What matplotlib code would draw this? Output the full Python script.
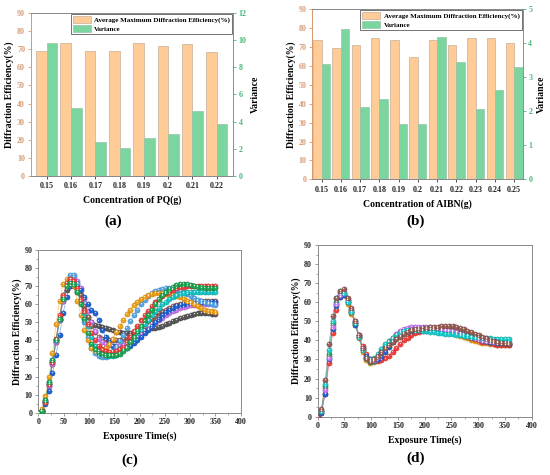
import numpy as np
import matplotlib
matplotlib.use("Agg")
import matplotlib.pyplot as plt
from matplotlib.ticker import MultipleLocator
from matplotlib.patches import Patch

# ---------------- data ----------------
pq_conc = ["0.15", "0.16", "0.17", "0.18", "0.19", "0.2", "0.21", "0.22"]
pq_eff = [69.2, 73.5, 68.9, 68.9, 73.3, 72.0, 72.8, 68.3]
pq_var = [9.82, 5.03, 2.50, 2.08, 2.77, 3.11, 4.78, 3.80]

aibn_conc = ["0.15", "0.16", "0.17", "0.18", "0.19", "0.2", "0.21", "0.22", "0.23", "0.24", "0.25"]
aibn_eff = [73.8, 69.3, 70.9, 75.0, 73.8, 64.8, 73.5, 70.9, 75.0, 74.7, 72.4]
aibn_var = [3.38, 4.42, 2.13, 2.35, 1.63, 1.63, 4.18, 3.46, 2.07, 2.64, 3.31]

step_c = 7  # s between samples, panel (c)
c_green = [0, 1, 7, 17, 29, 40, 52, 63, 70, 72, 71, 67, 60, 52, 44, 38, 35, 33, 32.5, 32, 32, 31.8, 32, 32.5, 34, 36, 39, 42, 45, 48, 51, 54, 57, 60, 63, 65, 67, 68.5, 69.5, 70.5, 71, 71, 71, 70.5, 70, 69.5, 69.3, 69.2, 69, 69, 69]
c_red = [0, 1, 6, 16, 28, 41, 54, 65, 72, 74, 73, 69, 63, 56, 49, 44, 40, 37, 35, 34, 33.5, 33.5, 34, 35, 36.5, 39, 42, 45, 48, 51, 54, 56.5, 59, 61, 63, 64.5, 66, 67, 68, 68.8, 69.3, 69.7, 70, 70, 70, 70, 70, 70, 70, 70, 70]
c_cyan = [0, 1, 7, 17, 29, 41, 53, 64, 70, 72, 71, 68, 62, 55, 48, 42, 37, 34, 32.5, 32, 31.5, 31.5, 32, 33, 34.5, 36.5, 39, 41.5, 44, 46.5, 49, 51.5, 54, 56, 58, 60, 61.5, 63, 64, 65, 65.8, 66.3, 66.7, 67, 67, 67, 67, 67, 67, 67, 67]
c_orange = [0, 2, 9, 20, 33, 49, 62, 71, 74, 74, 70, 62, 54, 46, 40, 36, 34.5, 34, 34.5, 36, 38, 41, 44.5, 48, 51.5, 54.5, 57, 59.5, 61.5, 63, 64, 65, 65.5, 66, 66, 66, 65.8, 65.5, 65, 64.5, 64, 63, 62, 61, 60, 59, 58, 57, 56.5, 56, 55.5]
c_lblue = [0, 1, 6, 16, 28, 40, 52, 64, 72, 76, 76, 72, 62, 50, 42, 36, 33, 31.5, 31, 31, 32, 34, 36.5, 39.5, 43, 47, 50.5, 54, 57, 60, 62.5, 64.5, 66, 67.2, 68, 68.5, 68.8, 68.8, 68.5, 68, 67.3, 66.5, 65.5, 64.5, 63.5, 62.5, 61.8, 61, 60.5, 60, 59.5]
c_brown = [0, 1, 6, 16, 28, 40, 52, 63, 70, 73, 73, 70, 65, 59, 53, 48, 44.5, 42, 41, 40.5, 40, 40, 40, 40.3, 41, 42, 43, 44.5, 46, 47.5, 49, 50.5, 52, 53.5, 55, 56, 57, 58, 58.8, 59.5, 60, 60.5, 61, 61.3, 61.6, 61.8, 62, 62, 62, 62, 62]
c_gray = [0, 1, 6, 15, 27, 39, 51, 62, 68, 70, 70, 67, 62, 57, 53, 50, 48.5, 48, 47.5, 47, 46.5, 45.5, 44.8, 44.5, 44.2, 44.2, 44.3, 44.5, 45, 45.5, 46, 46.3, 46.7, 47, 47.5, 48.2, 49, 49.8, 50.6, 51.4, 52.2, 53, 53.6, 54.2, 54.6, 54.9, 55, 55, 54.9, 54.8, 54.6]
c_purple = [0, 1, 6, 15, 27, 39, 51, 62, 70, 74, 75, 73, 69, 63, 56, 50, 45, 41, 39, 38, 37.5, 37, 37, 37, 37.3, 38, 39, 40.5, 42, 43.5, 45, 46.5, 48, 49.5, 51, 52.5, 54, 55, 56, 57, 57.8, 58.5, 59, 59.4, 59.7, 60, 60, 60, 60, 60, 60]
c_blue = [0, 1, 5, 12, 22, 32, 43, 55, 64, 70, 72, 71, 68, 64, 60, 57, 55, 51, 46, 42, 39, 37, 36, 35.5, 35.5, 36, 37, 38.5, 40, 42, 44, 46, 48, 50, 52, 54, 55.5, 56.8, 58, 59, 59.8, 60.3, 60.7, 61, 61, 61, 61, 61, 61, 61, 61]

step_d = 7  # s between samples, panel (d)
d_brown = [0, 4, 19, 38, 53, 62, 66, 67, 62, 57, 50, 43, 36, 31, 29, 30, 32, 34, 36, 37.5, 39, 40.5, 42, 43.5, 44.5, 45.2, 45.8, 46.2, 46.5, 46.7, 46.8, 47, 47.2, 47.4, 47.5, 47.5, 47.3, 47, 46.5, 45.8, 45, 44.2, 43.4, 42.6, 41.8, 41, 40.3, 39.7, 39.2, 38.8, 38.5, 38.2]
d_cyan = [0, 3, 17, 35, 50, 62, 66, 65, 60, 55, 49, 42, 35, 31, 29.5, 30.5, 33, 35.5, 38, 39, 41, 43, 44, 45, 45.3, 45.5, 45.5, 45.3, 45, 44.7, 44.5, 44.2, 44, 43.7, 43.5, 43.3, 43.2, 43, 42.8, 42.5, 42.2, 42, 41.8, 41.6, 41.4, 41.2, 41, 40.8, 40.7, 40.6, 40.5, 40.5]
d_red = [0, 2, 12, 28, 44, 56, 63, 64, 60, 55, 49, 43, 37, 33, 30, 29, 29, 29.5, 30.5, 32, 34, 36, 38, 40, 41.5, 42.8, 43.7, 44.3, 44.8, 45.1, 45.3, 45.5, 45.6, 45.6, 45.5, 45.3, 45, 44.5, 43.8, 43, 42.2, 41.4, 40.7, 40, 39.4, 38.9, 38.5, 38.1, 37.8, 37.6, 37.5, 37.5]
d_orange = [0, 3, 15, 32, 48, 59, 64, 64, 59, 54, 48, 41, 34, 29.5, 28, 28.5, 30.5, 33, 35.5, 37.5, 39.5, 41, 42.5, 43.5, 44.3, 44.8, 45.2, 45.5, 45.7, 45.8, 45.8, 45.7, 45.5, 45.2, 44.8, 44.3, 43.8, 43.2, 42.5, 41.8, 41.1, 40.4, 39.8, 39.3, 38.8, 38.4, 38.1, 37.9, 37.7, 37.6, 37.5, 37.5]
d_green = [0, 3, 16, 33, 49, 60, 65, 65, 61, 56, 49, 42, 35, 30.5, 28.5, 29, 31.5, 34, 37, 39.5, 41.5, 43, 44.2, 45, 45.6, 46, 46.2, 46.3, 46.3, 46.2, 46, 45.8, 45.6, 45.4, 45.2, 45, 44.7, 44.3, 43.8, 43.2, 42.6, 42, 41.4, 40.8, 40.3, 39.8, 39.4, 39, 38.8, 38.6, 38.5, 38.5]
d_blue = [0, 2, 12, 30, 46, 58, 63, 64, 60, 55, 48, 42, 36, 32, 30, 29.5, 30, 31.5, 34, 36.5, 39, 41, 42.5, 43.7, 44.5, 45, 45.4, 45.6, 45.7, 45.8, 45.8, 45.7, 45.6, 45.4, 45.2, 44.9, 44.5, 44, 43.4, 42.8, 42.2, 41.6, 41, 40.5, 40, 39.6, 39.2, 38.9, 38.7, 38.5, 38.4, 38.3]
d_purple = [0, 3, 14, 31, 47, 59, 64, 65, 61, 56, 50, 43, 36, 31, 29, 29.5, 31.5, 34, 36.5, 39, 41.5, 43.5, 45, 46, 46.6, 47, 47.2, 47.2, 47.1, 47, 46.8, 46.6, 46.3, 46, 45.6, 45.2, 44.7, 44.2, 43.6, 43, 42.3, 41.7, 41.1, 40.6, 40.2, 39.8, 39.5, 39.3, 39.2, 39.1, 39, 39]

# ---------------- style ----------------
SERIF = ["Liberation Serif", "DejaVu Serif"]
plt.rcParams["font.family"] = SERIF
plt.rcParams["font.weight"] = "bold"

ORANGE = "#FFCB96"
GREEN = "#7AD59E"
LEFT_TC = "#D69A72"
RIGHT_TC = "#4FB57C"
SPINE = "#8a8a8a"
TICK_FS = 5.8
LAB_FS = 7.0

fig = plt.figure(figsize=(5.5, 4.75), dpi=100)


def bar_panel(rect, cats, eff, var, vmax, vstep, xlabel, xlim_pad):
    ax = fig.add_axes(rect)
    x = np.arange(len(cats))
    w = 0.44
    ax.bar(x - w / 2, eff, w, color=ORANGE, edgecolor="#c4b09c", linewidth=0.5, zorder=2)
    ax.set_ylim(0, 90)
    ax.set_xlim(-xlim_pad[0], len(cats) - 1 + xlim_pad[1])
    ax.set_xticks(x)
    ax.set_xticklabels(cats)
    ax.yaxis.set_major_locator(MultipleLocator(10))
    ax2 = ax.twinx()
    ax2.bar(x + w / 2, var, w, color=GREEN, edgecolor="#96c4a8", linewidth=0.5, zorder=2)
    ax2.set_ylim(0, vmax)
    ax2.yaxis.set_major_locator(MultipleLocator(vstep))
    for a in (ax, ax2):
        for s in a.spines.values():
            s.set_color(SPINE)
            s.set_linewidth(0.7)
    ax.spines["left"].set_color(LEFT_TC)
    ax2.spines["left"].set_color(LEFT_TC)
    ax2.spines["right"].set_color(RIGHT_TC)
    ax.spines["right"].set_color(RIGHT_TC)
    ax.tick_params(axis="y", colors=LEFT_TC, labelsize=TICK_FS, length=2.5, width=0.6, direction="out", pad=1.5)
    ax.tick_params(axis="x", colors="#333333", labelsize=TICK_FS, length=2.5, width=0.6, direction="out", pad=2)
    ax2.tick_params(axis="y", colors=RIGHT_TC, labelsize=TICK_FS, length=2.5, width=0.6, direction="out", pad=1.5)
    for lbl in ax.get_xticklabels():
        lbl.set_color("#222222")
    ax.set_ylabel("Diffraction Efficiency(%)", fontsize=LAB_FS, fontweight="bold", labelpad=2)
    ax2.set_ylabel("Variance", fontsize=LAB_FS, fontweight="bold", rotation=90, labelpad=3)
    ax.set_xlabel(xlabel, fontsize=LAB_FS, fontweight="bold", labelpad=4)
    handles = [Patch(facecolor=ORANGE, edgecolor="#c4b09c", linewidth=0.5),
               Patch(facecolor=GREEN, edgecolor="#96c4a8", linewidth=0.5)]
    leg = ax2.legend(handles, ["Average Maximum Diffraction Efficiency(%)", "Variance"],
                     loc="upper right", fontsize=5.0, frameon=True, fancybox=False,
                     borderaxespad=0.15, handlelength=2.6, handleheight=1.1,
                     borderpad=0.3, labelspacing=0.25, handletextpad=0.5)
    leg.get_frame().set_edgecolor("#333333")
    leg.get_frame().set_linewidth(0.6)
    for t in leg.get_texts():
        t.set_fontweight("bold")
    return ax


def line_panel(rect, curves, step, xlabel):
    ax = fig.add_axes(rect)
    for ys, col, ec in curves:
        t = step * np.arange(len(ys))
        ax.plot(t, ys, "-", color=col, lw=0.5, alpha=0.55, zorder=2)
        ax.plot(t, ys, "o", ms=3.7, mfc=col, mec=ec, mew=0.35, zorder=3)
        ax.plot(t - 0.8, np.asarray(ys) + 0.5, "o", ms=1.0, mfc="white", mec="none", alpha=0.7, zorder=4)
    ax.set_xlim(0, 400)
    ax.set_ylim(0, 90)
    ax.xaxis.set_major_locator(MultipleLocator(50))
    ax.xaxis.set_minor_locator(MultipleLocator(25))
    ax.yaxis.set_major_locator(MultipleLocator(10))
    ax.yaxis.set_minor_locator(MultipleLocator(5))
    for s in ax.spines.values():
        s.set_color(SPINE)
        s.set_linewidth(0.7)
    ax.tick_params(which="major", colors=SPINE, labelcolor="#222222", labelsize=TICK_FS, length=2.5, width=0.6, pad=1.5)
    ax.tick_params(which="minor", colors=SPINE, length=1.5, width=0.5)
    ax.set_ylabel("Diffraction Efficiency(%)", fontsize=LAB_FS, fontweight="bold", labelpad=2)
    ax.set_xlabel(xlabel, fontsize=LAB_FS, fontweight="bold", labelpad=4)
    return ax


bar_panel([0.0558, 0.6295, 0.3684, 0.3432], pq_conc, pq_eff, pq_var, 12, 2,
          "Concentration of PQ(g)", (0.66, 0.68))
bar_panel([0.5673, 0.6225, 0.3831, 0.3579], aibn_conc, aibn_eff, aibn_var, 5, 1,
          "Concentration of AIBN(g)", (0.5, 0.44))

curves_c = [
    (c_gray, "#5a5a5a", "#3a3a3a"),
    (c_brown, "#9a5f55", "#6e4038"),
    (c_purple, "#c77cf0", "#9a55c5"),
    (c_blue, "#1f63d6", "#1448a0"),
    (c_lblue, "#5aa9e6", "#3a80bf"),
    (c_orange, "#f0a21a", "#c47c08"),
    (c_cyan, "#19c8c8", "#0f9a9a"),
    (c_red, "#f2413f", "#c42a28"),
    (c_green, "#1eaa55", "#137a3b"),
]
line_panel([0.0697, 0.1312, 0.3679, 0.3425], curves_c, step_c, "Exposure Time(s)")

curves_d = [
    (d_orange, "#f2a01a", "#c47c08"),
    (d_red, "#f2413f", "#c42a28"),
    (d_green, "#1eaa55", "#137a3b"),
    (d_blue, "#1f63d6", "#1448a0"),
    (d_purple, "#c77cf0", "#9a55c5"),
    (d_cyan, "#19cfcf", "#0f9a9a"),
    (d_brown, "#9a5f55", "#6e4038"),
]
line_panel([0.5776, 0.1228, 0.3891, 0.3614], curves_d, step_d, "Exposure Time(s)")

for txt, x, y in [("(a)", 0.205, 0.52), ("(b)", 0.755, 0.52), ("(c)", 0.236, 0.017), ("(d)", 0.755, 0.022)]:
    fig.text(x, y, txt, fontsize=11, fontweight="bold", ha="center", va="bottom", family=SERIF)

fig.savefig("out.png", dpi=100, facecolor="white")
